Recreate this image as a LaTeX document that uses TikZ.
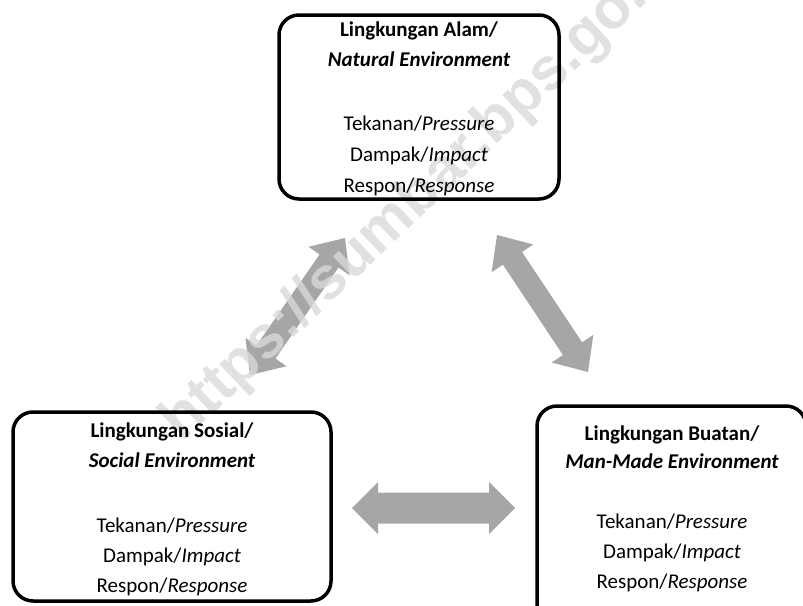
\documentclass[tikz,border=0pt]{standalone}
\usepackage{fontspec}
\setmainfont{Carlito}
\newfontfamily\wmfont{Liberation Sans}
\usetikzlibrary{calc}
\definecolor{arrowgray}{HTML}{A6A6A6}
\definecolor{wmgray}{HTML}{D9D9D9}
\tikzset{
  envbox/.style={draw=black, line width=3.5pt, rounded corners=20pt, inner sep=0pt},
  txt/.style={anchor=base, inner sep=0pt, font=\fontsize{21}{25}\selectfont},
  ttl/.style={anchor=base, inner sep=0pt, font=\fontsize{21}{25}\selectfont\bfseries},
  ttli/.style={anchor=base, inner sep=0pt, font=\fontsize{21}{25}\selectfont\bfseries\itshape},
  fatfill/.style={fill=arrowgray},
  wm/.style={inner sep=0pt, text=wmgray, text opacity=0.8, rotate=43.5, font=\wmfont\bfseries\fontsize{60}{64}\selectfont}
}
\newcommand\fatarrow[5]{%
  \coordinate (#1-h) at ($(#1)!#5!(#2)$);
  \coordinate (#2-h) at ($(#2)!#5!(#1)$);
  \fill[fatfill] (#1) -- ($(#1-h)!#4!90:(#2)$) -- ($(#1-h)!#3!90:(#2)$)
    -- ($(#2-h)!#3!-90:(#1)$) -- ($(#2-h)!#4!-90:(#1)$) -- (#2)
    -- ($(#2-h)!#4!90:(#1)$) -- ($(#2-h)!#3!90:(#1)$)
    -- ($(#1-h)!#3!-90:(#2)$) -- ($(#1-h)!#4!-90:(#2)$) -- cycle;}
\begin{document}
\begin{tikzpicture}[x=1pt,y=-1pt]
\useasboundingbox (0,0) rectangle (803,605);
% arrows
\coordinate (la1) at (250,375);
\coordinate (la2) at (345,238);
\coordinate (ra1) at (497,235);
\coordinate (ra2) at (588,372);
\coordinate (ha1) at (352,508);
\coordinate (ha2) at (515,508);
\fatarrow{la1}{la2}{11.5pt}{25pt}{28pt}
\fatarrow{ra1}{ra2}{11.5pt}{25pt}{28pt}
\fatarrow{ha1}{ha2}{15.5pt}{26pt}{26pt}
% watermark
\node[wm] (wmark) at (425,192) {https://sumbar.bps.go.id};
% boxes
\node[envbox, minimum width=280pt, minimum height=184pt] (nat) at (419,107) {};
\node[envbox, minimum width=318pt, minimum height=189pt] (soc) at (172,506.5) {};
\node[envbox, minimum width=269pt, minimum height=230pt] (man) at (671.5,521) {};
% texts natural
\node[ttl]  (n1) at (419,36)  {Lingkungan Alam/};
\node[ttli] (n2) at (419,66)  {Natural Environment};
\node[txt]  (n3) at (419,130) {Tekanan/\textit{Pressure}};
\node[txt]  (n4) at (419,161) {Dampak/\textit{Impact}};
\node[txt]  (n5) at (419,192) {Respon/\textit{Response}};
% texts social
\node[ttl]  (s1) at (172,437) {Lingkungan Sosial/};
\node[ttli] (s2) at (172,467) {Social Environment};
\node[txt]  (s3) at (172,532) {Tekanan/\textit{Pressure}};
\node[txt]  (s4) at (172,562) {Dampak/\textit{Impact}};
\node[txt]  (s5) at (172,592) {Respon/\textit{Response}};
% texts man-made
\node[ttl]  (m1) at (672,440) {Lingkungan Buatan/};
\node[ttli] (m2) at (672,468) {Man-Made Environment};
\node[txt]  (m3) at (672,528) {Tekanan/\textit{Pressure}};
\node[txt]  (m4) at (672,558) {Dampak/\textit{Impact}};
\node[txt]  (m5) at (672,588) {Respon/\textit{Response}};
\end{tikzpicture}
\end{document}
